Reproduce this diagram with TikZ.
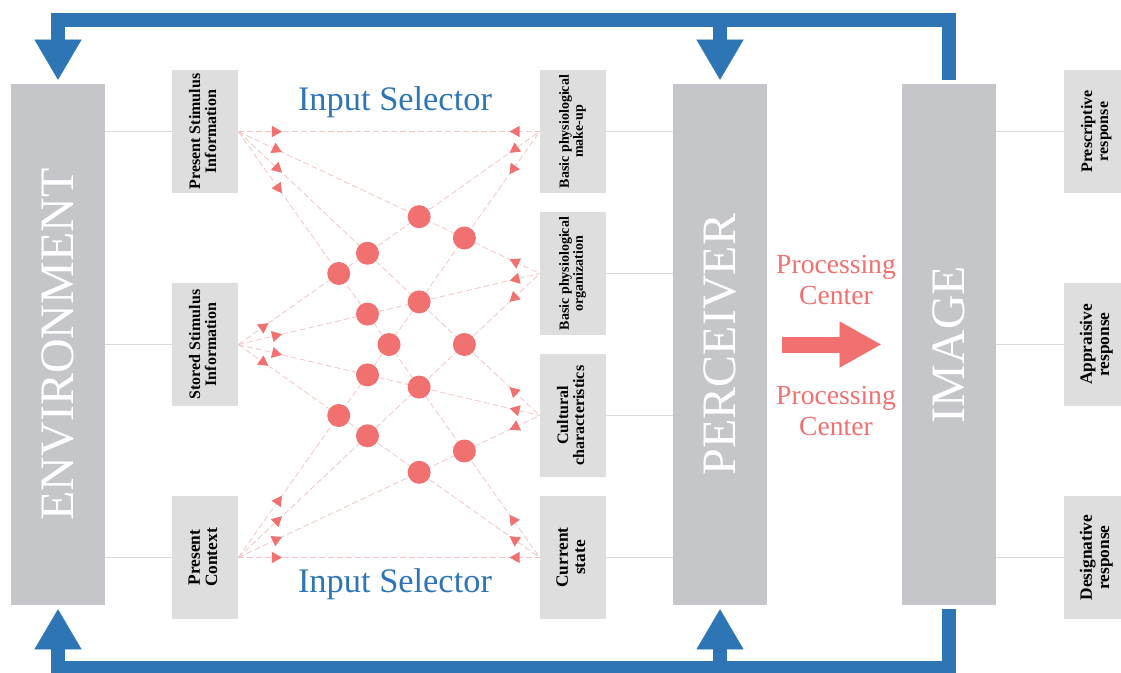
\documentclass[tikz,border=0pt]{standalone}
\usepackage{fontspec}
\setmainfont{Liberation Serif}
\usepackage{graphicx}
\usetikzlibrary{arrows.meta,positioning,calc,decorations.markings}
\newlength\pxu
\setlength\pxu{0.75pt}
\definecolor{fbblue}{RGB}{46,117,182}
\definecolor{netred}{RGB}{241,112,112}
\definecolor{netpink}{RGB}{244,196,196}
\definecolor{bigfill}{RGB}{197,198,202}
\definecolor{smallfill}{RGB}{222,222,222}
\definecolor{linkgray}{RGB}{218,218,218}
\newcommand\uptext[1]{\rotatebox{90}{\begin{tabular}{@{}c@{}}#1\end{tabular}}}
\tikzset{
  bigbox/.style={fill=bigfill,minimum width=94\pxu,minimum height=521\pxu,inner sep=0pt,
    text=white,font=\fontsize{36}{36}\selectfont},
  smallbox/.style={fill=smallfill,minimum width=66\pxu,minimum height=123\pxu,inner sep=0pt,
    font=\bfseries\fontsize{#1}{#1}\selectfont},
  smallbox/.default=12,
  neuron/.style={circle,fill=netred,minimum size=23\pxu,inner sep=0pt},
  link/.style={draw=linkgray,line width=0.8\pxu},
  net/.style 2 args={draw=netpink,line width=0.8\pxu,dash pattern=on 6\pxu off 3\pxu,
    postaction={decorate},decoration={markings,
      mark=at position #1 with {\arrow{Triangle[length=7.5pt,width=8.25pt,color=netred]}},
      mark=at position #2 with {\arrowreversed{Triangle[length=7.5pt,width=8.25pt,color=netred]}}}},
  fb/.style={draw=fbblue,line width=14\pxu,shorten >=3pt,
    -{Triangle[length=30pt,width=35.25pt,line width=0.1pt]}},
  pa/.style={draw=netred,line width=16\pxu,
    -{Triangle[length=30.75pt,width=34.5pt,line width=0.1pt]}},
  sel/.style={text=fbblue,font=\fontsize{25.8}{28}\selectfont},
  proc/.style={text=netred,align=center,font=\fontsize{20.7}{23}\selectfont}
}

\begin{document}
\begin{tikzpicture}[x=0.75pt,y=-0.75pt]
\useasboundingbox (0,0) rectangle (1121,672);
% main blocks
\node[bigbox] (env) at (58,344.5) {\rotatebox{90}{ENVIRONMENT}};
\node[bigbox] (perc) at (720,344.5) {\rotatebox{90}{PERCEIVER}};
\node[bigbox] (img) at (949,344.5) {\rotatebox{90}{IMAGE}};
% inputs
\node[smallbox] (psi) at (205,131.5) {\uptext{Present Stimulus\\Information}};
\node[smallbox] (ssi) at (205,344.5) {\uptext{Stored Stimulus\\Information}};
\node[smallbox=13] (pctx) at (205,557.5) {\uptext{Present\\Context}};
\node[smallbox=10.5] (bpm) at (573,131.5) {\uptext{Basic physiological\\make-up}};
\node[smallbox=10.5] (bpo) at (573,273.5) {\uptext{Basic physiological\\organization}};
\node[smallbox] (cult) at (573,415.5) {\uptext{Cultural\\characteristics}};
\node[smallbox=13] (cur) at (573,557.5) {\uptext{Current\\state}};
% responses
\node[smallbox] (presc) at (1097,131.5) {\uptext{Prescriptive\\response}};
\node[smallbox=13] (appr) at (1097,344.5) {\uptext{Appraisive\\response}};
\node[smallbox=13] (desig) at (1097,557.5) {\uptext{Designative\\response}};
% thin links
\draw[link] (env.east |- psi.west) -- (psi.west);
\draw[link] (env.east |- ssi.west) -- (ssi.west);
\draw[link] (env.east |- pctx.west) -- (pctx.west);
\draw[link] (bpm.east) -- (bpm.east -| perc.west);
\draw[link] (bpo.east) -- (bpo.east -| perc.west);
\draw[link] (cult.east) -- (cult.east -| perc.west);
\draw[link] (cur.east) -- (cur.east -| perc.west);
\draw[link] (img.east |- presc.west) -- (presc.west);
\draw[link] (img.east |- appr.west) -- (appr.west);
\draw[link] (img.east |- desig.west) -- (desig.west);
% selector network
\draw[net={0.145}{0.9}] (psi.east) -- (bpm.west);
\draw[net={0.145}{0.9}] (psi.east) -- (bpo.west);
\draw[net={0.145}{0.9}] (psi.east) -- (cult.west);
\draw[net={0.145}{0.9}] (psi.east) -- (cur.west);
\draw[net={0.1}{0.9}] (ssi.east) -- (bpm.west);
\draw[net={0.145}{0.9}] (ssi.east) -- (bpo.west);
\draw[net={0.145}{0.9}] (ssi.east) -- (cult.west);
\draw[net={0.1}{0.9}] (ssi.east) -- (cur.west);
\draw[net={0.145}{0.9}] (pctx.east) -- (bpm.west);
\draw[net={0.145}{0.9}] (pctx.east) -- (bpo.west);
\draw[net={0.145}{0.9}] (pctx.east) -- (cult.west);
\draw[net={0.145}{0.9}] (pctx.east) -- (cur.west);
\node[neuron] (n1) at ($(psi.east)!0.6!(bpo.west)$) {};
\node[neuron] (n2) at ($(psi.east)!0.75!(bpo.west)$) {};
\node[neuron] (n3) at ($(psi.east)!0.4286!(cult.west)$) {};
\node[neuron] (n4) at ($(psi.east)!0.3333!(cur.west)$) {};
\node[neuron] (n5) at ($(psi.east)!0.6!(cult.west)$) {};
\node[neuron] (n6) at ($(psi.east)!0.4286!(cur.west)$) {};
\node[neuron] (n7) at ($(psi.east)!0.5!(cur.west)$) {};
\node[neuron] (n8) at ($(psi.east)!0.75!(cult.west)$) {};
\node[neuron] (n9) at ($(pctx.east)!0.4286!(bpm.west)$) {};
\node[neuron] (n10) at ($(pctx.east)!0.6!(bpo.west)$) {};
\node[neuron] (n11) at ($(pctx.east)!0.3333!(bpm.west)$) {};
\node[neuron] (n12) at ($(pctx.east)!0.4286!(bpo.west)$) {};
\node[neuron] (n13) at ($(pctx.east)!0.75!(cult.west)$) {};
\node[neuron] (n14) at ($(pctx.east)!0.6!(cult.west)$) {};
\node[sel] (selt) at (395,102) {Input Selector};
\node[sel] (selb) at (395,584) {Input Selector};
% processing
\draw[pa] ([xshift=11.25pt]perc.east) -- ([xshift=-15.75pt]img.west);
\node[proc] (proct) at (836,280) {Processing\\Center};
\node[proc] (procb) at (836,411) {Processing\\Center};
% feedback loops
\coordinate (ftop) at (0,20);
\coordinate (fbot) at (0,668);
\draw[fb] ([yshift=3pt]img.north) -- (img.north |- ftop) -| (env.north);
\draw[fb] (perc.north |- ftop) -- (perc.north);
\draw[fb] ([yshift=-3pt]img.south) -- (img.south |- fbot) -| (env.south);
\draw[fb] (perc.south |- fbot) -- (perc.south);
\end{tikzpicture}
\end{document}
